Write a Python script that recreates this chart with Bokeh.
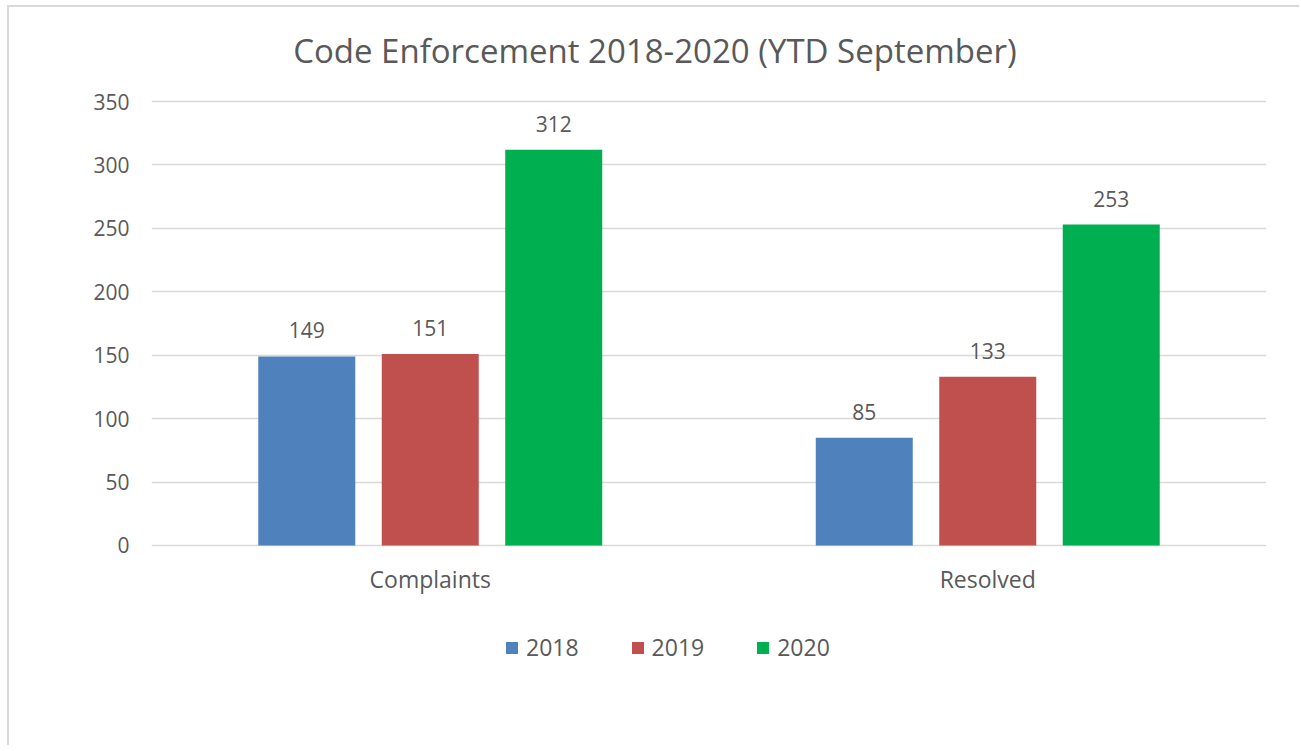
from bokeh.plotting import figure
from bokeh.models import FactorRange, Range1d, ColumnDataSource, Legend, LegendItem, Label
from bokeh.transform import dodge
from bokeh.core.properties import value
from bokeh.embed import file_html
from bokeh.resources import INLINE

title_text = "Code Enforcement 2018-2020 (YTD September)"
categories = ["Complaints", "Resolved"]
years = ["2018", "2019", "2020"]
v2018 = [149, 85]
v2019 = [151, 133]
v2020 = [312, 253]
colors = ["#4F81BD", "#C0504D", "#00B050"]
y_ticks = [0, 50, 100, 150, 200, 250, 300, 350]

FONT = "Open Sans"
TXT = "#595959"

src = ColumnDataSource(data=dict(
    cat=categories,
    y2018=v2018, y2019=v2019, y2020=v2020,
    l2018=[str(v) for v in v2018],
    l2019=[str(v) for v in v2019],
    l2020=[str(v) for v in v2020],
))

# frame spans the whole height (title above, legend below are drawn inside it);
# the axis ticks/grid stay on 0..350 so the value area matches the reference
p = figure(
    x_range=FactorRange(*categories, range_padding=0),
    y_range=Range1d(-111.94, 424.10),
    width=1292, height=740,
    output_backend="svg", toolbar_location=None,
    min_border_left=142, min_border_right=35,
    min_border_top=0, min_border_bottom=60,
    margin=(5, 0, 0, 7),
)
p.styles = {"border-top": "2px solid #d9d9d9", "border-left": "2px solid #d9d9d9"}

p.add_layout(Label(x=0.903, y=390.2, text=title_text, text_align="center",
                   text_baseline="middle", text_font=FONT, text_font_size="33px",
                   text_color=TXT))

p.outline_line_color = None
p.xgrid.grid_line_color = None
p.ygrid.grid_line_color = "#d9d9d9"
p.ygrid.grid_line_width = 1.5

p.yaxis.ticker = y_ticks
p.yaxis.axis_line_color = None
p.yaxis.major_tick_line_color = None
p.yaxis.minor_tick_line_color = None
p.yaxis.major_tick_out = 0
p.yaxis.major_tick_in = 0
p.yaxis.major_label_text_font = FONT
p.yaxis.major_label_text_font_size = "21px"
p.yaxis.major_label_text_color = TXT
p.yaxis.major_label_standoff = 22

p.xaxis.fixed_location = 0
p.xaxis.axis_line_color = None
p.xaxis.major_tick_line_color = None
p.xaxis.minor_tick_line_color = None
p.xaxis.major_tick_out = 0
p.xaxis.major_tick_in = 0
p.xaxis.major_label_text_font = FONT
p.xaxis.major_label_text_font_size = "23px"
p.xaxis.major_label_text_color = TXT
p.xaxis.major_label_standoff = 18

offsets = [-0.2215, 0.0, 0.2215]
items = []
for yr, off, col in zip(years, offsets, colors):
    r = p.vbar(x=dodge("cat", off, range=p.x_range), top="y" + yr, width=0.174,
               source=src, fill_color=col, line_color=None)
    p.text(x=dodge("cat", off, range=p.x_range), y="y" + yr, text="l" + yr,
           source=src, y_offset=-26, text_align="center", text_baseline="middle",
           text_font=value(FONT), text_font_size="21px", text_color=TXT)
    items.append(LegendItem(label=yr, renderers=[r]))

legend = Legend(items=items, orientation="horizontal", location=(353, 24),
                glyph_width=15, glyph_height=15, label_standoff=7, spacing=51,
                label_text_font=FONT, label_text_font_size="23px",
                label_text_color=TXT, border_line_color=None,
                background_fill_alpha=0, padding=0, margin=0)
p.add_layout(legend, "center")

open("out.html", "w").write(file_html(p, INLINE))
